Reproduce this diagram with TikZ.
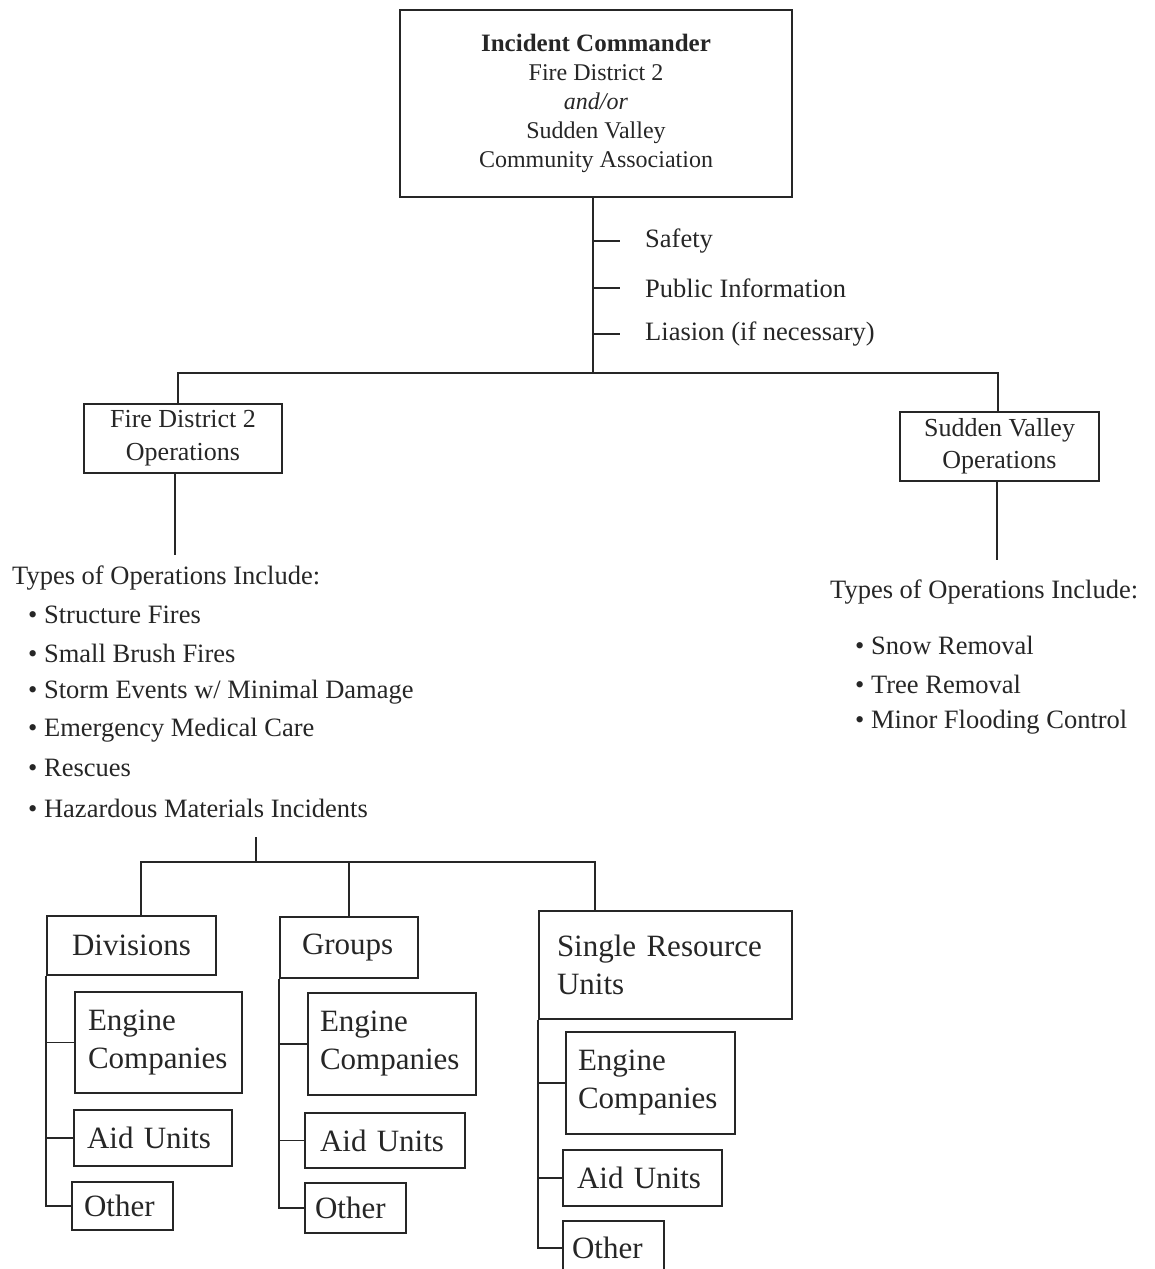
\documentclass[tikz,border=0pt]{standalone}
\usepackage{fontspec}
\setmainfont{Liberation Serif}
\begin{document}
\begin{tikzpicture}[x=1pt,y=-1pt,
  line/.style={line width=1.8pt, draw=black!85},
  box/.style={draw=black!85, line width=1.8pt, inner sep=0pt, align=center},
  ubox/.style={draw=black!85, line width=1.8pt, inner ysep=0pt, align=left, font=\fontsize{31}{38}\selectfont},
  lbl/.style={anchor=west, inner sep=0pt, font=\fontsize{26.5}{30}\selectfont},
  every node/.append style={text=black!85}
]
\clip (0,0) rectangle (1155,1269);
\useasboundingbox (0,0) rectangle (1155,1269);

% top
\node[box, minimum width=392pt, minimum height=187pt, font=\fontsize{24}{29}\selectfont] (ic) at (596,103.5)
  {{\bfseries\fontsize{25}{29}\selectfont Incident Commander}\\Fire District 2\\\textit{and/or}\\Sudden Valley\\Community Association};

\node[lbl] (safety) at (645,241) {Safety};
\node[lbl] (pubinfo) at (645,288) {Public Information};
\node[lbl] (liaison) at (645,334) {Liasion (if necessary)};

\coordinate (j1) at (593,373);
\draw[line] (ic.south -| j1) -- (j1);
\foreach \n in {safety,pubinfo,liaison}
  \draw[line] (j1 |- \n.west) -- ([xshift=-25pt]\n.west);

\node[box, minimum width=198pt, minimum height=69pt, font=\fontsize{26}{33}\selectfont] (fd2) at (183,438.5) {Fire District 2\\Operations};
\node[box, minimum width=199pt, minimum height=69pt, font=\fontsize{26}{32}\selectfont] (sv) at (999.5,446.5) {Sudden Valley\\Operations};
\draw[line] ([xshift=-5pt]fd2.north) |- (j1) -| ([xshift=-1.5pt]sv.north);

% FD2 list
\coordinate (fd2end) at (175,555);
\draw[line] (fd2.south -| fd2end) -- (fd2end);
\node[lbl] (fd2types) at (12,578) {Types of Operations Include:};
\node[lbl] (f1) at (28,615) {\textbullet\ Structure Fires};
\node[lbl] (f2) at (28,653) {\textbullet\ Small Brush Fires};
\node[lbl] (f3) at (28,692) {\textbullet\ Storm Events w/ Minimal Damage};
\node[lbl] (f4) at (28,730) {\textbullet\ Emergency Medical Care};
\node[lbl] (f5) at (28,768) {\textbullet\ Rescues};
\node[lbl] (f6) at (28,808) {\textbullet\ Hazardous Materials Incidents};

% SV list
\coordinate (svend) at (997,560);
\draw[line] (sv.south -| svend) -- (svend);
\node[lbl] (svtypes) at (830,592) {Types of Operations Include:};
\node[lbl] (s1) at (855,645) {\textbullet\ Snow Removal};
\node[lbl] (s2) at (855,684) {\textbullet\ Tree Removal};
\node[lbl] (s3) at (855,722) {\textbullet\ Minor Flooding Control};

% bottom
\coordinate (j2top) at (256,837);
\coordinate (j2) at (256,862);
\draw[line] (j2top) -- (j2);

\node[ubox, text width=119pt, inner xsep=25pt, minimum height=59pt] (div) at (131.5,945.5) {Divisions};
\node[ubox, text width=141pt, inner xsep=13pt, minimum height=101pt] (diveng) at (158.5,1042.5) {Engine\\Companies};
\node[ubox, text width=132pt, inner xsep=13pt, minimum height=56pt] (divaid) at (153,1138) {Aid Units};
\node[ubox, text width=77pt, inner xsep=12pt, minimum height=48pt] (divoth) at (122.5,1206) {Other};

\node[ubox, text width=94pt, inner xsep=22pt, minimum height=61pt] (grp) at (349,947.5) {Groups};
\node[ubox, text width=144pt, inner xsep=12pt, minimum height=102pt] (grpeng) at (392,1044) {Engine\\Companies};
\node[ubox, text width=130pt, inner xsep=15pt, minimum height=55pt] (grpaid) at (385,1140.5) {Aid Units};
\node[ubox, text width=81pt, inner xsep=10pt, minimum height=50pt] (grpoth) at (355.5,1208) {Other};

\node[ubox, text width=217pt, inner xsep=18pt, minimum height=108pt] (sru) at (665.5,965) {Single Resource\\Units};
\node[ubox, text width=145pt, inner xsep=12pt, minimum height=102pt] (srueng) at (650.5,1083) {Engine\\Companies};
\node[ubox, text width=131pt, inner xsep=14pt, minimum height=56pt] (sruaid) at (642.5,1178) {Aid Units};
\node[ubox, text width=83pt, inner xsep=9pt, minimum height=54pt] (sruoth) at (613.5,1248) {Other};

\draw[line] ([xshift=95pt]div.north west) |- (j2) -| ([xshift=57pt]sru.north west);
\draw[line] (j2 -| grp.north) -- (grp.north);

\draw[line] (div.south west) |- (divoth.west);
\draw[line] (div.south west |- diveng.west) -- (diveng.west);
\draw[line] (div.south west |- divaid.west) -- (divaid.west);

\draw[line] (grp.south west) |- (grpoth.west);
\draw[line] (grp.south west |- grpeng.west) -- (grpeng.west);
\draw[line] (grp.south west |- grpaid.west) -- (grpaid.west);

\draw[line] (sru.south west) |- (sruoth.west);
\draw[line] (sru.south west |- srueng.west) -- (srueng.west);
\draw[line] (sru.south west |- sruaid.west) -- (sruaid.west);
\end{tikzpicture}
\end{document}
